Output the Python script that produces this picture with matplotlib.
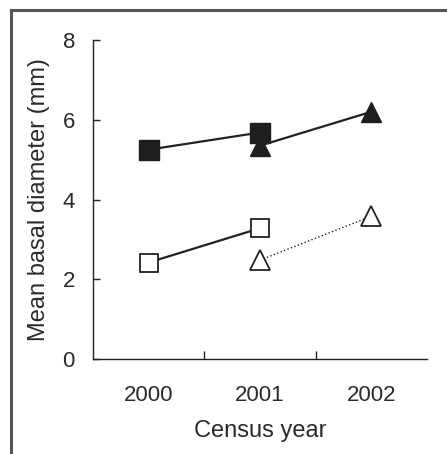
import matplotlib
matplotlib.use("Agg")
import matplotlib.pyplot as plt
from matplotlib.lines import Line2D

years = ["2000", "2001", "2002"]
x_pos = [0, 1, 2]

# series: filled squares, filled triangles, open squares, open triangles
filled_sq_x = [0, 1]
filled_sq_y = [5.25, 5.68]
filled_tri_x = [1, 2]
filled_tri_y = [5.35, 6.2]
open_sq_x = [0, 1]
open_sq_y = [2.42, 3.28]
open_tri_x = [1, 2]
open_tri_y = [2.48, 3.58]

yticks = [0, 2, 4, 6, 8]

plt.rcParams['font.family'] = ['Liberation Sans', 'DejaVu Sans']
txt = '#2a2a2a'
lc = '#222222'

fig = plt.figure(figsize=(4.47, 4.54), dpi=100)
ax = fig.add_axes([93/447, 1 - 359/454, (427-93)/447, (359-40)/454])

ax.plot(filled_sq_x, filled_sq_y, '-', color=lc, lw=1.6, marker='s', ms=14,
        mfc='#1e1e1e', mec='#1e1e1e', zorder=3)
ax.plot(filled_tri_x, filled_tri_y, '-', color=lc, lw=1.6, marker='^', ms=14,
        mfc='#1e1e1e', mec='#1e1e1e', zorder=3)
ax.plot(open_sq_x, open_sq_y, '-', color=lc, lw=1.6, marker='s', ms=13.5,
        mfc='white', mec=lc, mew=1.3, zorder=3)
ax.plot(open_tri_x, open_tri_y, ':', color=lc, lw=1.0, marker='^', ms=14,
        mfc='white', mec=lc, mew=1.3, zorder=3)

ax.set_xlim(-0.5, 2.5)
ax.set_ylim(0, 8)
ax.set_xticks(x_pos)
ax.set_xticklabels(years)
ax.set_xticks([0.5, 1.5], minor=True)
ax.tick_params(axis='x', which='major', length=0, pad=19, labelsize=16, labelcolor=txt)
ax.tick_params(axis='x', which='minor', direction='in', length=6, width=1.0, color=lc)
ax.set_yticks(yticks)
ax.tick_params(axis='y', direction='in', length=5, width=1.0, color=lc, pad=13,
               labelsize=16, labelcolor=txt)

for s in ['top', 'right']:
    ax.spines[s].set_visible(False)
for s in ['left', 'bottom']:
    ax.spines[s].set_color(lc)
    ax.spines[s].set_linewidth(1.0)

ax.set_xlabel('Census year', fontsize=17, color=txt, labelpad=10)
ax.set_ylabel('Mean basal diameter (mm)', fontsize=17, color=txt, labelpad=9)

# outer frame (top and left edges)
fig.add_artist(Line2D([11/447, 11/447], [0, 1 - 10/454], transform=fig.transFigure,
                      color='#555555', lw=2.2))
fig.add_artist(Line2D([11/447, 1], [1 - 10/454, 1 - 10/454], transform=fig.transFigure,
                      color='#555555', lw=2.2))

fig.savefig('out.png', dpi=100)
